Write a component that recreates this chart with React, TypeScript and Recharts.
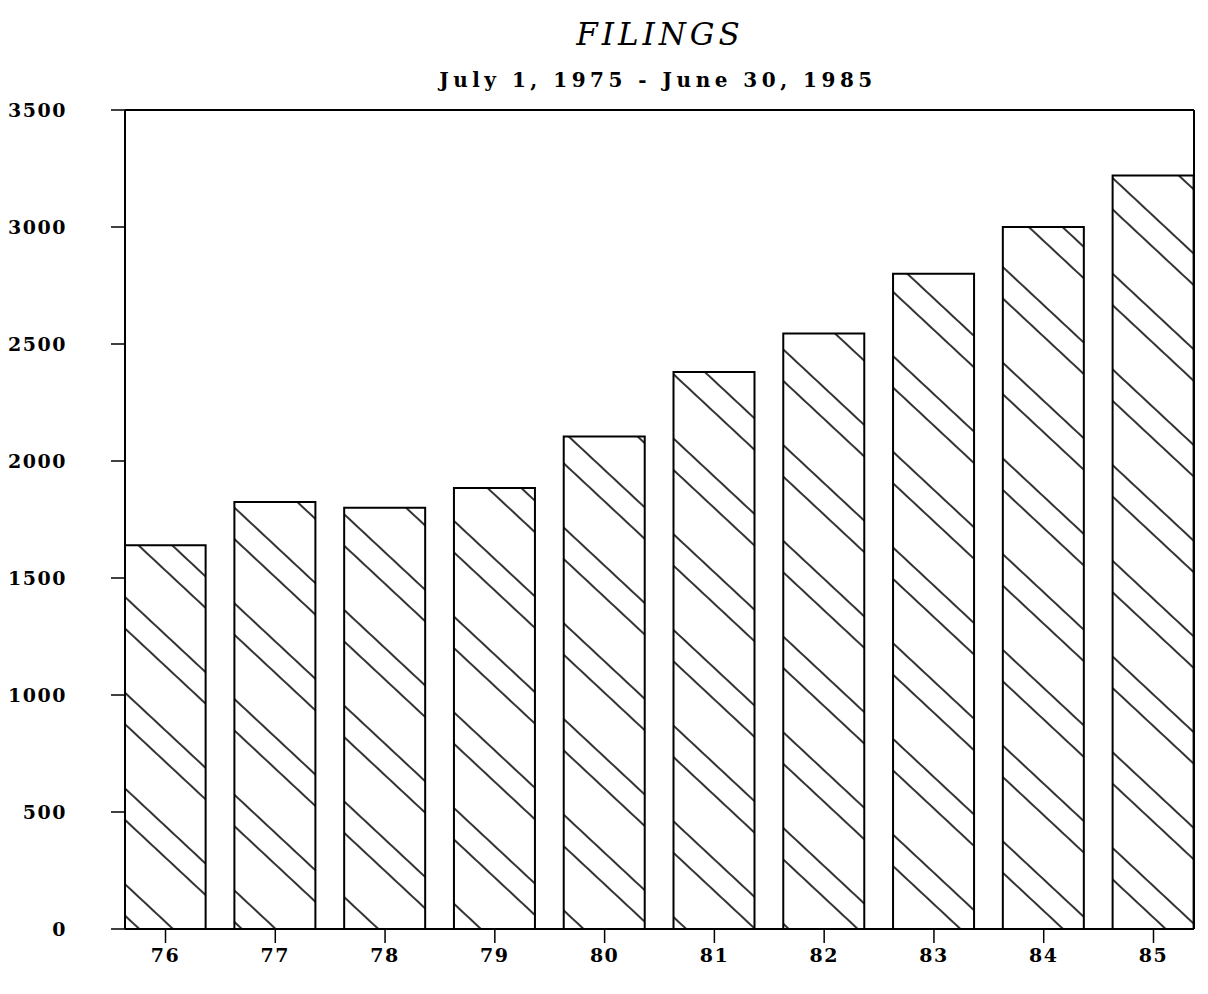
import { BarChart, Bar, XAxis, YAxis } from 'recharts';

const YEARS = [76, 77, 78, 79, 80, 81, 82, 83, 84, 85];
const FILINGS = [1640, 1825, 1800, 1885, 2105, 2380, 2545, 2800, 3000, 3220];
const Y_TICKS = [0, 500, 1000, 1500, 2000, 2500, 3000, 3500];

const data = YEARS.map((year, i) => ({ year, filings: FILINGS[i] }));

const tickFont = {
  fontFamily: '"DejaVu Serif", serif',
  fontWeight: 'bold',
  fontSize: 19,
  fill: '#000',
  letterSpacing: 1.5,
};

export default function App() {
  return (
    <div style={{ position: 'relative', width: 1200, height: 986, background: '#fff' }}>
      <svg width={0} height={0} style={{ position: 'absolute' }}>
        <defs>
          <pattern
            id="hatch"
            patternUnits="userSpaceOnUse"
            width={20}
            height={70}
            patternTransform="rotate(43)"
          >
            <line x1={0} y1={1} x2={20} y2={1} stroke="#000" strokeWidth={1.6} />
            <line x1={0} y1={24} x2={20} y2={24} stroke="#000" strokeWidth={1.6} />
          </pattern>
        </defs>
      </svg>

      <div
        style={{
          position: 'absolute',
          left: 0,
          width: 1304,
          top: 8,
          textAlign: 'center',
          fontFamily: '"DejaVu Serif", serif',
          fontStyle: 'italic',
          fontSize: 31,
          letterSpacing: 4,
          color: '#000',
        }}
      >
        FILINGS
      </div>
      <div
        style={{
          position: 'absolute',
          left: 0,
          width: 1300,
          top: 60,
          textAlign: 'center',
          fontFamily: '"DejaVu Serif", serif',
          fontSize: 20,
          fontWeight: 600,
          letterSpacing: 4.5,
          color: '#000',
        }}
      >
        July 1, 1975 - June 30, 1985
      </div>

      <BarChart
        width={1200}
        height={986}
        data={data}
        margin={{ top: 101, right: 13, left: 0, bottom: 0 }}
      >
        <XAxis
          dataKey="year"
          type="number"
          domain={[75.631, 85.369]}
          allowDataOverflow
          ticks={YEARS}
          height={65}
          tickSize={14}
          tickMargin={6}
          tick={tickFont}
          axisLine={{ stroke: '#000', strokeWidth: 2 }}
          tickLine={{ stroke: '#000', strokeWidth: 1.5 }}
        />
        <XAxis
          xAxisId="top"
          orientation="top"
          dataKey="year"
          type="number"
          domain={[75.631, 85.369]}
          allowDataOverflow
          height={1}
          tick={false}
          tickLine={false}
          axisLine={{ stroke: '#000', strokeWidth: 2 }}
        />
        <YAxis
          domain={[0, 3500]}
          ticks={Y_TICKS}
          width={117}
          tickSize={14}
          tickMargin={44}
          tick={tickFont}
          axisLine={{ stroke: '#000', strokeWidth: 2 }}
          tickLine={{ stroke: '#000', strokeWidth: 1.5 }}
        />
        <YAxis
          yAxisId="right"
          orientation="right"
          domain={[0, 3500]}
          width={1}
          tick={false}
          tickLine={false}
          axisLine={{ stroke: '#000', strokeWidth: 2 }}
        />
        <Bar
          dataKey="filings"
          barSize={81}
          fill="url(#hatch)"
          stroke="#000"
          strokeWidth={2}
          isAnimationActive={false}
        />
      </BarChart>
    </div>
  );
}
